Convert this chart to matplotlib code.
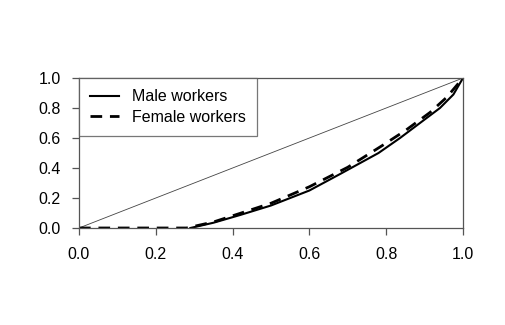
import matplotlib
matplotlib.use("Agg")
import matplotlib.pyplot as plt

plt.rcParams['font.family'] = ['Liberation Sans', 'DejaVu Sans']

male_x = [0.29, 0.35, 0.42, 0.50, 0.55, 0.60, 0.68, 0.73, 0.78, 0.836, 0.888, 0.94, 0.975, 1.0]
male_y = [0.0, 0.035, 0.087, 0.15, 0.20, 0.25, 0.36, 0.43, 0.50, 0.60, 0.70, 0.80, 0.89, 1.0]
female_x = [0.0, 0.28, 0.35, 0.42, 0.50, 0.60, 0.70, 0.79, 0.85, 0.914, 0.957, 1.0]
female_y = [0.0, 0.0, 0.04, 0.098, 0.165, 0.275, 0.405, 0.55, 0.65, 0.77, 0.87, 1.0]
ticks = [0.0, 0.2, 0.4, 0.6, 0.8, 1.0]
tick_labels = ["0.0", "0.2", "0.4", "0.6", "0.8", "1.0"]

fig = plt.figure(figsize=(5.05, 3.25), dpi=100)
ax = fig.add_axes([79/505, (325-228)/325, (463-79)/505, 150/325])

ax.plot([0, 1], [0, 1], color='#444444', lw=0.6)
ax.plot(male_x, male_y, color='black', lw=1.5, label='Male workers')
ax.plot(female_x, female_y, color='black', lw=2.0, linestyle=(0, (4.2, 2.8)), label='Female workers')

ax.set_xlim(0, 1)
ax.set_ylim(0, 1)
ax.set_xticks(ticks)
ax.set_xticklabels(tick_labels)
ax.set_yticks(ticks)
ax.set_yticklabels(tick_labels)
for s in ax.spines.values():
    s.set_color('#555555')
    s.set_linewidth(0.9)
ax.tick_params(direction='out', length=5, width=0.9, color='#555555', labelsize=11.5)
ax.tick_params(axis='x', pad=9)
ax.tick_params(axis='y', pad=8)

leg = ax.legend(loc='upper left', bbox_to_anchor=(0, 1), borderaxespad=0, fontsize=11.5,
                frameon=True, fancybox=False, handlelength=1.8, handletextpad=0.8,
                borderpad=0.7, labelspacing=0.35)
leg.get_frame().set_edgecolor('#555555')
leg.get_frame().set_linewidth(0.9)

fig.savefig('out.png', dpi=100)
